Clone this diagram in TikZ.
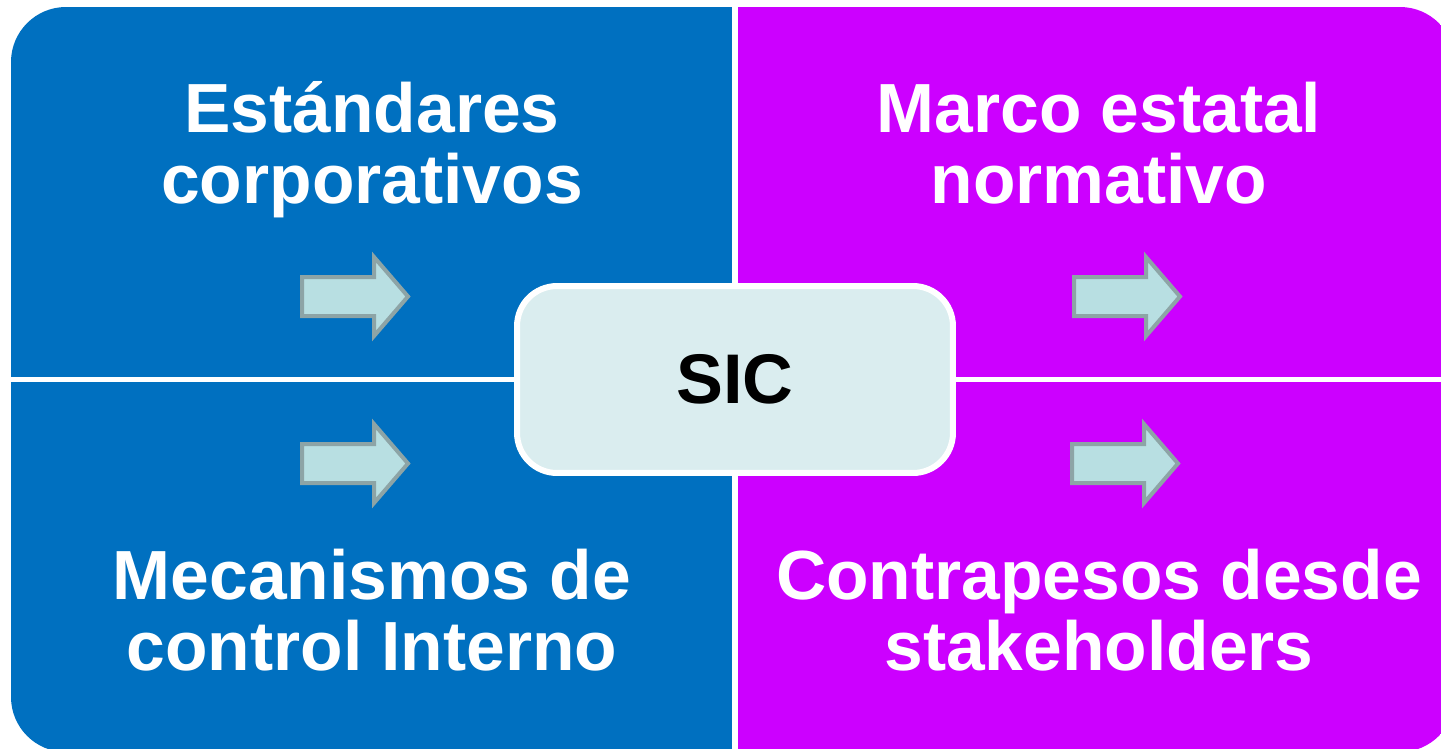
\documentclass[tikz,border=0pt]{standalone}
\usepackage{fontspec}
\setmainfont{Liberation Sans}
\usetikzlibrary{positioning}
\definecolor{quadblue}{RGB}{0,112,192}
\definecolor{quadpink}{RGB}{204,0,255}
\definecolor{sicfill}{RGB}{218,237,239}
\definecolor{arrowfill}{RGB}{184,223,226}
\definecolor{arrowedge}{RGB}{141,164,166}
\tikzset{
	quadtext/.style={text=white, font=\fontsize{39.6}{40.3}\selectfont\bfseries, align=center},
	sicbox/.style={draw=white, line width=0.12cm, fill=sicfill, rounded corners=0.8cm, minimum width=8.72cm, minimum height=3.74cm, font=\fontsize{40}{44}\selectfont\bfseries},
	bigarrow/.pic={\draw[draw=arrowedge, fill=arrowfill, line width=0.08cm] (0,-19.5) -- (72,-19.5) -- (72,-39.5) -- (106,0) -- (72,39.5) -- (72,19.5) -- (0,19.5) -- cycle;}
}
\begin{document}
\begin{tikzpicture}[x=0.02cm, y=-0.02cm]
			\useasboundingbox (0,0) rectangle (1441,748);
			\begin{scope}
				\clip[rounded corners=1.1cm] (11,7) rectangle (1455,752);
				\fill[quadblue] (11,7) rectangle (735,752);
				\fill[quadpink] (735,7) rectangle (1455,752);
			\end{scope}
			\draw[white, line width=0.11cm] (735,7) -- (735,752);
			\draw[white, line width=0.11cm] (11,379.5) -- (1455,379.5);
			\node (std) [quadtext] at (372,150) {Estándares\\corporativos};
			\node (marco) [quadtext] at (1099,143) {Marco estatal\\normativo};
			\node (mec) [quadtext] at (372,610.5) {Mecanismos de\\control Interno};
			\node (contra) [quadtext] at (1099,610.5) {Contrapesos desde\\stakeholders};
			\pic (arrtl) at (302,296.5) {bigarrow};
			\pic (arrbl) at (302,463.5) {bigarrow};
			\pic (arrtr) at (1074,296.5) {bigarrow};
			\pic (arrbr) at (1072,463.5) {bigarrow};
			\node (sic) [sicbox] at (735,379.5) {SIC};
		\end{tikzpicture}
\end{document}
